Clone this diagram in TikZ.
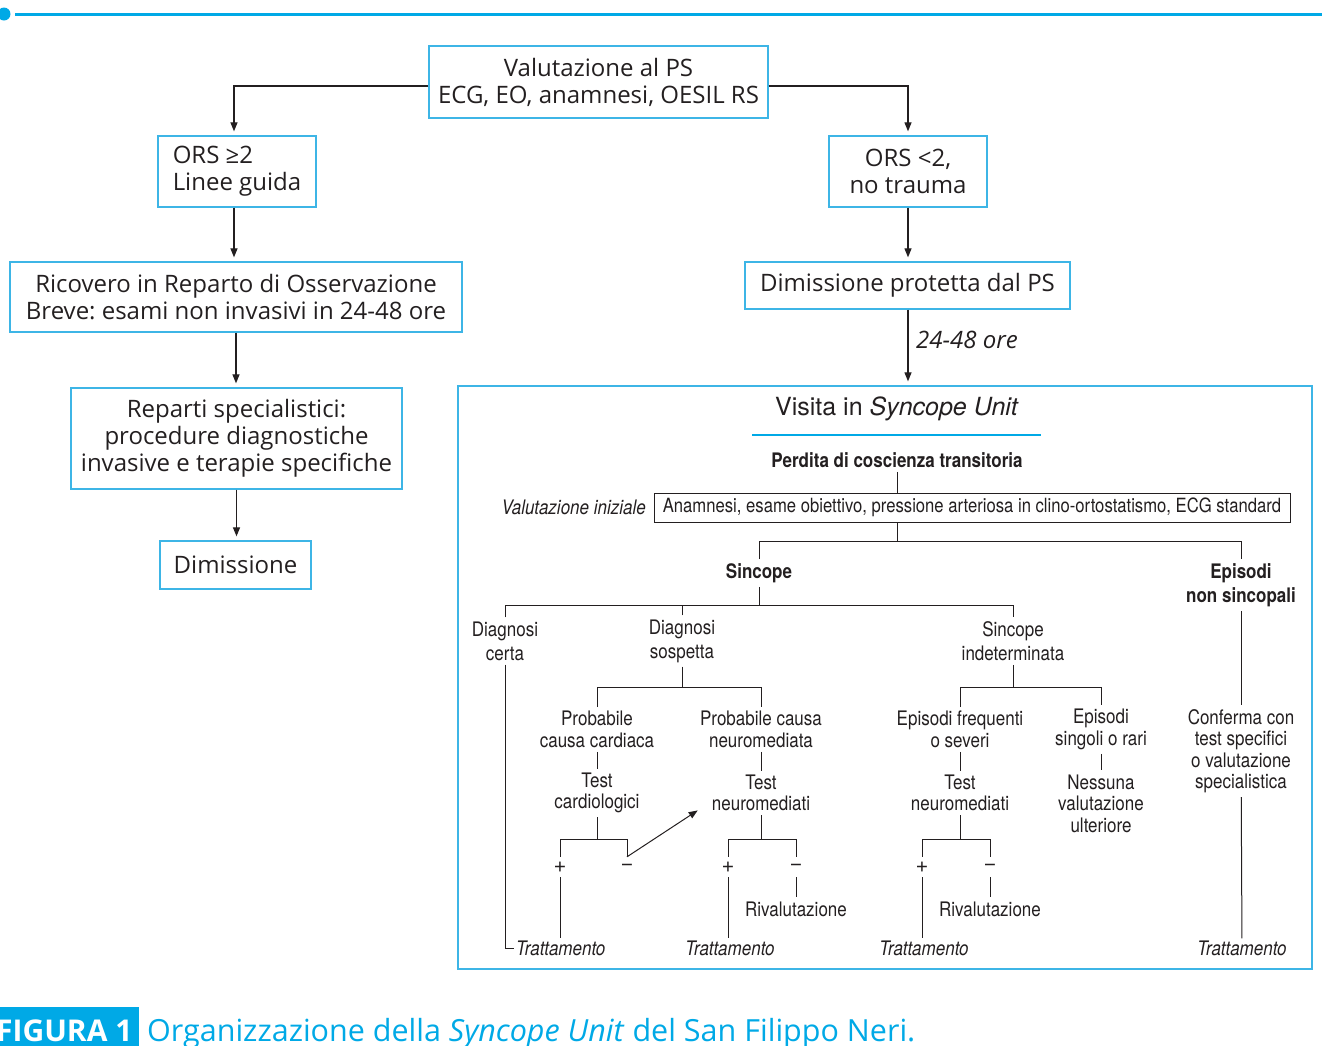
\documentclass[tikz,border=0pt]{standalone}
\usepackage{fontspec}
\setmainfont{Open Sans}
\newfontfamily\cnd[FakeStretch=0.85]{TeX Gyre Heros}
\newfontfamily\hel{TeX Gyre Heros}
\usepackage{tikz}
\usetikzlibrary{positioning, arrows.meta, calc}
\frenchspacing
\definecolor{suBlue}{HTML}{00A9E6}
\definecolor{suBorder}{HTML}{3DB5E6}
\definecolor{ink}{HTML}{231F20}
\newcommand{\boxfont}{\fontsize{24}{27}\selectfont}
\newcommand{\treefont}{\cnd\fontsize{20}{21.5}\selectfont}
\newcommand{\treefontw}{\cnd\fontsize{20}{24}\selectfont}

\begin{document}
\begin{tikzpicture}[x=1pt,y=-1pt,
  box/.style={draw=suBorder, line width=1.3pt, align=center, inner sep=0pt, font=\boxfont, text=ink},
  arr/.style={-{Triangle[length=9pt,width=7pt]}, line width=1.2pt, color=ink, shorten >=4pt},
  ln/.style={line width=1pt, color=ink},
  tn/.style={align=center, inner sep=4pt, font=\treefont, text=ink},
  tnw/.style={align=center, inner sep=4pt, font=\treefontw, text=ink},
  sgn/.style={inner sep=0pt, minimum size=20pt, font=\hel\fontsize{22}{22}\selectfont, text=ink},
  trt/.style={inner sep=2pt, font=\treefont\itshape, text=ink}]
\useasboundingbox (0,0) rectangle (1322,1045);
% top rule
\fill[suBlue] (4,14) circle (6.5);
\draw[suBlue, line width=3pt] (15,14) -- (1322,14);
% upper flow
\node[box, minimum width=339pt, minimum height=72pt] (vps) at (598.5,82) {Valutazione al PS\\ECG, EO, anamnesi, OESIL RS};
\node[box, minimum width=158pt, minimum height=71pt, align=left] (ors2) at (237,171.5) {ORS ≥2\\Linee guida};
\node[box, minimum width=158pt, minimum height=71pt] (orsl) at (908,171.5) {ORS <2,\\no trauma};
\node[box, minimum width=452pt, minimum height=70pt] (ric) at (236,297) {Ricovero in Reparto di Osservazione\\Breve: esami non invasivi in 24-48 ore};
\node[box, minimum width=325pt, minimum height=47pt] (dpps) at (907.5,285.5) {Dimissione protetta dal PS};
\node[box, minimum width=331pt, minimum height=101pt] (rsp) at (236.5,438.5) {Reparti specialistici:\\procedure diagnostiche\\invasive e terapie specifiche};
\node[box, minimum width=151pt, minimum height=48pt] (dim) at (235.5,565) {Dimissione};
\node[draw=suBorder, line width=1.3pt, inner sep=0pt, minimum width=854pt, minimum height=583pt] (su) at (885,677.5) {};
\draw[arr] ([yshift=-4pt]vps.west) -| ([xshift=-3pt]ors2.north);
\draw[arr] ([yshift=-4pt]vps.east) -| (orsl.north);
\draw[arr] ([xshift=-3pt]ors2.south) -- ([xshift=-3pt]ors2.south |- ric.north);
\draw[arr] (orsl.south) -- (orsl.south |- dpps.north);
\draw[arr] (ric.south) -- (ric.south |- rsp.north);
\draw[arr] (rsp.south) -- (rsp.south |- dim.north);
\draw[arr] (orsl.south |- dpps.south) -- (orsl.south |- su.north);
\node[anchor=west, font=\boxfont\itshape, text=ink, inner sep=0pt] (ore) at (916,340) {24-48 ore};
% syncope unit
\node[font=\hel\fontsize{25}{28}\selectfont, text=ink] (vsu) at (897,409) {Visita in \textit{Syncope Unit}};
\draw[suBlue, line width=2pt] (752,435) -- (1041,435);
\node[tn, font=\treefont\bfseries] (pdct) at (897,460) {Perdita di coscienza transitoria};
\node[draw=ink, line width=1pt, minimum width=636pt, minimum height=29pt, inner sep=0pt, font=\cnd\fontsize{19.6}{21}\selectfont, text=ink] (ini) at (972,507.5) {Anamnesi, esame obiettivo, pressione arteriosa in clino-ortostatismo, ECG standard};
\node[anchor=east, inner sep=0pt, font=\treefont\itshape, text=ink] (vin) at (646,507) {Valutazione iniziale};
\node[tn, font=\treefont\bfseries] (sinc) at (759,573) {Sincope};
\node[tnw, font=\treefontw\bfseries] (ens) at (1241,585) {Episodi\\non sincopali};
\node[tnw] (dcer) at (505,641) {Diagnosi\\certa};
\node[tnw] (dsos) at (682,641) {Diagnosi\\sospetta};
\node[tnw] (sind) at (1013,641) {Sincope\\indeterminata};
\node[tn] (pcc) at (597,729.5) {Probabile\\causa cardiaca};
\node[tn] (pcn) at (761,729.5) {Probabile causa\\neuromediata};
\node[tn] (efs) at (960,729.5) {Episodi frequenti\\o severi};
\node[tn] (esr) at (1101,729.5) {Episodi\\singoli o rari};
\node[tn] (conf) at (1241,751) {Conferma con\\test specifici\\o valutazione\\specialistica};
\node[tn] (tc) at (597,793) {Test\\cardiologici};
\node[tn] (tn1) at (761,793) {Test\\neuromediati};
\node[tn] (tn2) at (960,793) {Test\\neuromediati};
\node[tn] (nes) at (1101,803.5) {Nessuna\\valutazione\\ulteriore};
\node[sgn] (p1) at (560,867) {+};
\node[sgn] (m1) at (627,867) {−};
\node[sgn] (p2) at (728,867) {+};
\node[sgn] (m2) at (796,867) {−};
\node[sgn] (p3) at (922,867) {+};
\node[sgn] (m3) at (990,867) {−};
\node[tn] (riv1) at (796,909) {Rivalutazione};
\node[tn] (riv2) at (990,909) {Rivalutazione};
\node[trt, anchor=west] (tr1) at (514,948) {Trattamento};
\node[trt] (tr2) at (730,948) {Trattamento};
\node[trt] (tr3) at (924,948) {Trattamento};
\node[trt] (tr4) at (1242,948) {Trattamento};
\coordinate (jIni) at (897,541);
\coordinate (jSin) at (759,605);
\coordinate (jSos) at (682,687);
\coordinate (jSind) at (1013,687);
\coordinate (jTc) at (597,839);
\coordinate (jTn1) at (761,839);
\coordinate (jTn2) at (960,839);
\draw[ln] (pdct.south) -- (pdct.south |- ini.north);
\draw[ln] (jIni |- ini.south) -- (jIni);
\draw[ln] (sinc.north) |- (jIni) -| (ens.north);
\draw[ln] (sinc) -- (jSin);
\draw[ln] (dcer.north) |- (jSin) -| (sind.north);
\draw[ln] (dsos.north) -- (jSos |- jSin);
\draw[ln] (dsos) -- (jSos);
\draw[ln] (pcc.north) |- (jSos) -| (pcn.north);
\draw[ln] (sind) -- (jSind);
\draw[ln] (efs.north) |- (jSind) -| (esr.north);
\draw[ln] (pcc) -- (tc);
\draw[ln] (pcn) -- (tn1);
\draw[ln] (efs) -- (tn2);
\draw[ln] (esr) -- (nes);
\draw[ln] (tc) -- (jTc);
\draw[ln] (p1.north) |- (jTc) -| (m1.north);
\draw[ln] (tn1) -- (jTn1);
\draw[ln] (p2.north) |- (jTn1) -| (m2.north);
\draw[ln] (tn2) -- (jTn2);
\draw[ln] (p3.north) |- (jTn2) -| (m3.north);
\draw[ln, -{Triangle[length=9pt,width=7pt]}] (m1.north) -- ([shift={(-10pt,5pt)}]tn1.south west);
\draw[ln] (p1.south) -- (p1.south |- tr1.north);
\draw[ln] (p2.south) -- (p2.south |- tr2.north);
\draw[ln] (p3.south) -- (p3.south |- tr3.north);
\draw[ln] (m2.south) -- (riv1);
\draw[ln] (m3.south) -- (riv2);
\draw[ln] (dcer.south) |- (tr1.west);
\draw[ln] (ens) -- (conf);
\draw[ln] (conf) -- (tr4);
% caption
\fill[suBlue] (0,1007) rectangle (139,1060);
\node[anchor=base west, inner sep=0pt, font=\fontsize{30}{32}\selectfont\bfseries, text=white] (fig) at (-4,1041) {FIGURA 1};
\node[anchor=base west, inner sep=0pt, font=\fontsize{30.5}{32}\selectfont, text=suBlue] (cap) at (147,1041) {Organizzazione della \textit{Syncope Unit} del San Filippo Neri.};
\end{tikzpicture}
\end{document}
